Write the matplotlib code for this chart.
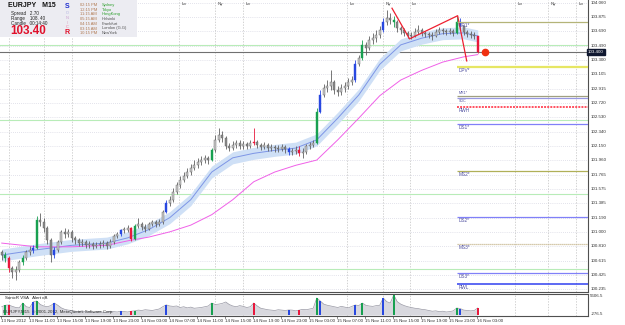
import matplotlib
matplotlib.use('Agg')
import matplotlib.pyplot as plt
from matplotlib.patches import Rectangle

# ---------------- data (30-min sampled bars of EURJPY M15 chart) ----------------
first_open = 100.73
closes = [100.69, 100.65, 100.52, 100.46, 100.49, 100.60, 100.65, 100.73, 100.76, 100.78,
          101.16, 101.13, 101.05, 100.89, 100.69, 100.76, 100.86, 101.00, 100.97, 101.00,
          100.92, 100.89, 100.85, 100.86, 100.82, 100.84, 100.81, 100.82, 100.84, 100.85,
          100.81, 100.86, 100.95, 100.97, 101.03, 101.03, 101.05, 100.91, 101.08, 101.11,
          101.07, 101.04, 101.11, 101.13, 101.11, 101.13, 101.27, 101.39, 101.43, 101.53,
          101.63, 101.69, 101.75, 101.80, 101.85, 101.89, 101.93, 101.96, 101.99, 101.96,
          102.09, 102.23, 102.30, 102.26, 102.15, 102.12, 102.16, 102.19, 102.15, 102.17,
          102.15, 102.19, 102.20, 102.16, 102.13, 102.16, 102.12, 102.13, 102.12, 102.11,
          102.13, 102.11, 102.07, 102.08, 102.09, 102.05, 102.07, 102.15, 102.16, 102.19,
          102.60, 102.83, 102.92, 102.95, 103.00, 102.90, 102.87, 102.92, 102.95, 103.00,
          103.03, 103.24, 103.32, 103.50, 103.46, 103.57, 103.59, 103.63, 103.70, 103.81,
          103.86, 103.83, 103.81, 103.73, 103.70, 103.66, 103.63, 103.62, 103.67, 103.70,
          103.66, 103.65, 103.63, 103.62, 103.67, 103.70, 103.69, 103.67, 103.69, 103.66,
          103.81, 103.75, 103.67, 103.65, 103.63, 103.62, 103.40]
highs = [100.76, 100.73, 100.68, 100.54, 100.54, 100.62, 100.69, 100.76, 100.81, 100.82,
         101.21, 101.25, 101.19, 101.08, 100.92, 100.80, 100.89, 101.03, 101.05, 101.04,
         101.03, 100.95, 100.92, 100.91, 100.89, 100.88, 100.86, 100.86, 100.88, 100.89,
         100.88, 100.91, 100.97, 101.00, 101.04, 101.07, 101.09, 101.07, 101.11, 101.19,
         101.13, 101.11, 101.13, 101.16, 101.16, 101.17, 101.29, 101.43, 101.48, 101.59,
         101.67, 101.75, 101.80, 101.85, 101.91, 101.96, 101.99, 102.01, 102.03, 102.01,
         102.12, 102.30, 102.39, 102.35, 102.28, 102.19, 102.21, 102.23, 102.23, 102.21,
         102.20, 102.23, 102.39, 102.23, 102.19, 102.20, 102.19, 102.17, 102.16, 102.16,
         102.17, 102.16, 102.13, 102.12, 102.15, 102.15, 102.12, 102.17, 102.20, 102.23,
         102.66, 102.90, 102.98, 103.03, 103.16, 103.03, 102.95, 102.98, 103.00, 103.06,
         103.08, 103.30, 103.37, 103.57, 103.54, 103.62, 103.66, 103.70, 103.75, 103.86,
         103.97, 103.93, 103.89, 103.83, 103.75, 103.73, 103.69, 103.67, 103.73, 103.77,
         103.73, 103.69, 103.67, 103.67, 103.71, 103.74, 103.73, 103.71, 103.73, 103.71,
         103.89, 103.86, 103.77, 103.70, 103.69, 103.67, 103.62]
lows = [100.62, 100.60, 100.46, 100.38, 100.36, 100.46, 100.56, 100.62, 100.69, 100.72,
        100.77, 101.08, 101.00, 100.84, 100.60, 100.65, 100.73, 100.84, 100.92, 100.93,
        100.86, 100.84, 100.81, 100.81, 100.78, 100.78, 100.77, 100.78, 100.78, 100.80,
        100.77, 100.78, 100.84, 100.92, 100.95, 100.99, 101.00, 100.88, 100.89, 101.05,
        101.03, 101.00, 101.03, 101.08, 101.07, 101.08, 101.11, 101.25, 101.35, 101.40,
        101.51, 101.59, 101.67, 101.72, 101.76, 101.83, 101.85, 101.89, 101.92, 101.91,
        101.95, 102.07, 102.20, 102.20, 102.11, 102.08, 102.09, 102.12, 102.11, 102.11,
        102.11, 102.12, 102.16, 102.12, 102.09, 102.11, 102.08, 102.08, 102.07, 102.07,
        102.08, 102.05, 102.03, 102.03, 102.04, 102.01, 101.99, 102.04, 102.11, 102.13,
        102.17, 102.59, 102.80, 102.87, 102.90, 102.84, 102.82, 102.83, 102.87, 102.91,
        102.96, 103.00, 103.22, 103.30, 103.37, 103.43, 103.51, 103.54, 103.59, 103.67,
        103.77, 103.78, 103.74, 103.67, 103.65, 103.62, 103.59, 103.58, 103.61, 103.65,
        103.62, 103.61, 103.59, 103.57, 103.61, 103.65, 103.65, 103.63, 103.65, 103.62,
        103.65, 103.71, 103.63, 103.61, 103.59, 103.58, 103.39]
# VSA bar classes: g = green, b = blue, r = red
vsa = {1: 'g', 2: 'r', 6: 'g', 9: 'b', 10: 'g', 15: 'b', 34: 'b', 37: 'r', 38: 'g',
       47: 'b', 60: 'g', 72: 'r', 82: 'b', 85: 'r', 90: 'g', 91: 'b', 101: 'b',
       103: 'g', 109: 'b', 112: 'g', 130: 'g', 131: 'b', 136: 'r'}
volumes = [2200, 2600, 2670, 2300, 2000, 1900, 3200, 2200, 2000, 3500,
           3740, 2800, 2400, 2200, 2500, 3200, 2600, 1900, 1500, 1300,
           1200, 1000, 900, 1100, 800, 900, 700, 800, 900, 700,
           800, 1000, 900, 800, 1000, 900, 800, 1000, 1100, 1300,
           1200, 1400, 1300, 1200, 1400, 1600, 2200, 2700, 2400, 2300,
           2400, 2000, 2200, 1900, 2100, 1800, 1900, 2000, 2200, 2400,
           3200, 2800, 2900, 3100, 3470, 2800, 2400, 2200, 2500, 2300,
           2000, 2200, 3200, 2400, 1800, 1600, 1400, 1300, 1200, 1400,
           1300, 1200, 1335, 1300, 1100, 1300, 1500, 1400, 1600, 1800,
           4540, 3740, 2900, 2600, 2400, 2200, 2000, 2300, 2100, 1900,
           2300, 2670, 2500, 3200, 2600, 2400, 2300, 2500, 2600, 4540,
           3550, 3200, 5340, 3550, 2900, 2500, 2200, 2000, 1800, 1700,
           1500, 1400, 1200, 1000, 1100, 900, 1000, 800, 900, 1100,
           1870, 1700, 1300, 1200, 1100, 1200, 1870]

# moving averages sampled on the M15 bar index
ma_idx = [0, 20, 40, 60, 72, 84, 96, 108, 120, 132, 144, 156, 168, 180, 192, 204, 216, 228, 240, 252, 264, 272]
ema_fast = [100.69, 100.76, 100.82, 100.85, 100.92, 101.03, 101.19, 101.43, 101.80, 101.99, 102.05,
            102.09, 102.12, 102.23, 102.52, 102.83, 103.24, 103.50, 103.59, 103.65, 103.66, 103.62]
ema_slow = [100.85, 100.80, 100.80, 100.82, 100.88, 100.93, 101.00, 101.09, 101.23, 101.43, 101.67,
            101.80, 101.89, 101.96, 102.23, 102.52, 102.82, 103.03, 103.16, 103.27, 103.34, 103.37]

# zigzag (M15 index, price)
zz_idx = [223, 233, 260.5, 265.7]
zz_price = [103.99, 103.58, 103.89, 103.285]

# pivot levels
piv_names = ['DR1*', 'DPV*', 'MR1*', 'SOC', 'RWH', 'DS1*', 'MS2*', 'DS2*', 'MS3*', 'DS3*', 'RWL']
piv_values = [103.81, 103.205, 102.82, 102.785, 102.67, 102.44, 101.81, 101.20, 100.84, 100.45, 100.30]
round_levels = [103.50, 102.50, 101.50, 100.50]
last_price = 103.40

price_ticks = [104.060, 103.875, 103.690, 103.490, 103.300, 103.105, 102.915, 102.720, 102.530,
               102.340, 102.150, 101.960, 101.765, 101.575, 101.385, 101.190, 101.000, 100.810,
               100.615, 100.425, 100.235]
time_labels = ['13 Nov 2012', '13 Nov 11:00', '13 Nov 15:00', '13 Nov 19:00', '13 Nov 23:00',
               '14 Nov 03:00', '14 Nov 07:00', '14 Nov 11:00', '14 Nov 15:00', '14 Nov 19:00',
               '14 Nov 23:00', '15 Nov 03:00', '15 Nov 07:00', '15 Nov 11:00', '15 Nov 15:00',
               '15 Nov 19:00', '15 Nov 23:00', '16 Nov 03:00']
sessions = ['Lo', 'Ny', 'Lo', 'Lo', 'Ny', 'Lo', 'Lo', 'Ny', 'Lo', 'Lo', 'Ny', 'Lo']
session_idx = [4, 24, 40, 101, 122, 138, 197, 218, 233, 293, 312, 328]

cities = ['Sydney', 'Tokyo', 'HongKong', 'Helsinki', 'Frankfurt', 'London (G.G)', 'NewYork']
city_times = ['02:15 PM', '12:15 PM', '11:15 AM', '05:15 AM', '04:15 AM', '03:15 AM', '10:15 PM']

# ---------------- drawing ----------------
W, H = 625, 325
plt.rcParams['font.family'] = ['Liberation Sans', 'DejaVu Sans']
fig = plt.figure(figsize=(6.25, 3.25), dpi=100)
fig.patch.set_facecolor('white')


def fx(x):
    return x / W


def fy(y):
    return 1 - y / H


ax = fig.add_axes([0, fy(292), fx(588), 292 / H])
sub = fig.add_axes([0, fy(316), fx(588), 22 / H])
for a in (ax, sub):
    a.set_xlim(-1, 335)
    a.set_xticks([])
    a.set_yticks([])
    a.set_facecolor('white')
    for s in a.spines.values():
        s.set_color('#505050')
        s.set_linewidth(0.8)
    a.spines['left'].set_visible(False)
ax.spines['top'].set_visible(False)
ax.set_ylim(100.196, 104.10)
sub.set_ylim(-276.5, 5606.5)

ytr = ax.get_yaxis_transform()
xtr = ax.get_xaxis_transform()

# grid
for p in price_ticks:
    ax.axhline(p, color='#c8c8d8', lw=0.5, ls=(0, (1, 2)), zorder=0)
for m, s in zip(session_idx, sessions):
    ax.axvline(m, color='#c0c0c0', lw=0.5, ls=(0, (2, 2)), zorder=0)
    sub.axvline(m, color='#c0c0c0', lw=0.5, ls=(0, (2, 2)), zorder=0)
    if m * 1.75 > 140:  # labels left of this sit under the info panel
        ax.text(m + 1.5, 0.992, s, transform=xtr, fontsize=3.2, color='#404040', va='top', ha='left')
for p in round_levels:
    ax.axhline(p, color='#b8ecb8', lw=0.8, zorder=1)
ax.axhline(last_price, color='#707070', lw=0.8, zorder=1)

# moving averages
band = 0.08
ax.fill_between(ma_idx, [v - band for v in ema_fast], [v + band for v in ema_fast],
                color='#cfe0f6', lw=0, zorder=2)
ax.plot(ma_idx, ema_fast, color='#7d95e6', lw=0.7, zorder=3)
ax.plot(ma_idx, ema_slow, color='#f060e8', lw=0.7, zorder=3)

# candles
colmap = {'g': '#18a050', 'b': '#2848e0', 'r': '#e8183c'}
opens = [first_open] + closes[:-1]
for i in range(len(closes)):
    m = 2 * i
    c = vsa.get(i, '')
    o, cl = opens[i], closes[i]
    col = colmap.get(c, '#808080')
    ax.vlines(m, lows[i], highs[i], color=col if c else '#606060', lw=0.6, zorder=4)
    lo, hi = min(o, cl), max(o, cl)
    if hi - lo < 0.006:
        hi = lo + 0.006
    ax.bar(m, hi - lo, bottom=lo, width=1.2,
           color=col if c else ('#c8c8c8' if cl >= o else '#8a8a8a'),
           edgecolor=col if c else '#606060', lw=0.3, zorder=5)

# zigzag and marker
ax.plot(zz_idx, zz_price, color='#ee2030', lw=0.9, zorder=6)
ax.plot([276], [last_price], 'o', color='#f03010', ms=4.5, zorder=7, clip_on=False)

# pivot levels
piv_style = {
    'DR1*': ('#b4b478', 0.9, '-'), 'DPV*': ('#e6e664', 1.6, '-'), 'MR1*': ('#a0a080', 0.9, '-'),
    'SOC': ('#9898e0', 0.9, '-'), 'RWH': ('#ff5060', 1.4, (0, (1, 0.6))),
    'DS1*': ('#8080f8', 0.9, '-'), 'MS2*': ('#b0b058', 0.9, '-'), 'DS2*': ('#8080f8', 0.9, '-'),
    'MS3*': ('#c8b890', 0.9, (0, (1, 0.6))), 'DS3*': ('#8080f8', 0.9, '-'), 'RWL': ('#3040f0', 1.1, '-')}
for name, v in zip(piv_names, piv_values):
    col, lw, ls = piv_style[name]
    ax.hlines(v, 260, 336, color=col, lw=lw, ls=ls, zorder=6)
    if name == 'SOC':
        ax.text(261, v - 0.005, name, fontsize=2.6, color='#5050a0', va='top', ha='left', zorder=7)
    elif name == 'MR1*':
        ax.text(261, v + 0.005, name, fontsize=2.6, color='#5050a0', va='bottom', ha='left', zorder=7)
    else:
        ax.text(261, v - 0.012, name, fontsize=3.4, color='#5050a0', va='top', ha='left', zorder=7)

# price axis labels
for p in price_ticks:
    ax.text(1.004, p, f'{p:.3f}', transform=ytr, fontsize=3.2, color='#303030', va='center',
            ha='left', clip_on=False)
ax.text(1.0, last_price, f'{last_price:.3f}', transform=ytr, fontsize=3.2, color='white',
        va='center', ha='left', clip_on=False,
        bbox=dict(boxstyle='square,pad=0.25', fc='#101830', ec='#101830'))

# volume panel
vx = [2 * i for i in range(len(volumes))]
sub.fill_between(vx, 0, volumes, color='#d8d8de', lw=0, zorder=1)
sub.plot(vx, volumes, color='#9898a4', lw=0.5, zorder=2)
for i, c in vsa.items():
    sub.bar(2 * i, volumes[i], width=1.3, color=colmap[c], lw=0, zorder=3)
sub.text(2, 5000, 'SonicR VSA   Alert off.', fontsize=3.2, color='#202020', va='top')
sub.text(0.5, 200, 'EURJPY,M15  \u00a9 2001-2012, MetaQuotes Software Corp.', fontsize=3.2,
         color='#303030', va='bottom', zorder=4)
st = sub.get_yaxis_transform()
sub.text(1.004, 5606.5, '5606.5', transform=st, fontsize=3.2, color='#303030', va='top', clip_on=False)
sub.text(1.004, -276.5, '-276.5', transform=st, fontsize=3.2, color='#303030', va='bottom', clip_on=False)

# time axis labels
for k, lab in enumerate(time_labels):
    fig.text(fx(k * 28 + 1), fy(320.5), lab, fontsize=3.2, color='#303030', va='center', ha='left')
    fig.add_artist(plt.Line2D([fx(k * 28 + 1)] * 2, [fy(316), fy(318)], color='#505050', lw=0.5))

# info panel
fig.add_artist(Rectangle((0, fy(37)), fx(137), 37 / H, transform=fig.transFigure,
                         fc='#ececf2', ec='none', zorder=10))
fig.text(fx(8), fy(5.5), 'EURJPY   M15', fontsize=5.0, fontweight='bold', color='#101010',
         va='center', zorder=11)
fig.text(fx(11), fy(13), 'Spread   2.70', fontsize=3.3, color='#202020', va='center', zorder=11)
fig.text(fx(11), fy(18.3), 'Range    108. 40', fontsize=3.3, color='#202020', va='center', zorder=11)
fig.text(fx(11), fy(23.6), 'Candle   00:14:40', fontsize=3.3, color='#202020', va='center', zorder=11)
fig.text(fx(10), fy(31), f'{last_price:.2f}', fontsize=8.4, fontweight='bold', color='#e0102a',
         va='center', zorder=11)
for ch, yy, col, fs, fw in [('S', 6, '#2030d0', 5.0, 'bold'), ('O', 13.5, '#b0b0e0', 2.8, 'normal'),
                            ('N', 18, '#c8a0d0', 2.8, 'normal'), ('I', 22.5, '#d8a0c0', 2.8, 'normal'),
                            ('C', 26.5, '#f070a0', 2.8, 'normal'), ('R', 32, '#e0102a', 5.0, 'bold')]:
    fig.text(fx(67), fy(yy), ch, fontsize=fs, fontweight=fw, color=col, ha='center', va='center', zorder=11)
for k, (t, cname) in enumerate(zip(city_times, cities)):
    yy = 5 + k * 4.7
    fig.text(fx(80), fy(yy), t, fontsize=2.9, color='#b07850', va='center', zorder=11)
    fig.text(fx(102), fy(yy), cname, fontsize=2.9, color='#30a030' if k < 3 else '#505050',
             va='center', zorder=11)

fig.savefig('out.png', dpi=100, facecolor='white')
